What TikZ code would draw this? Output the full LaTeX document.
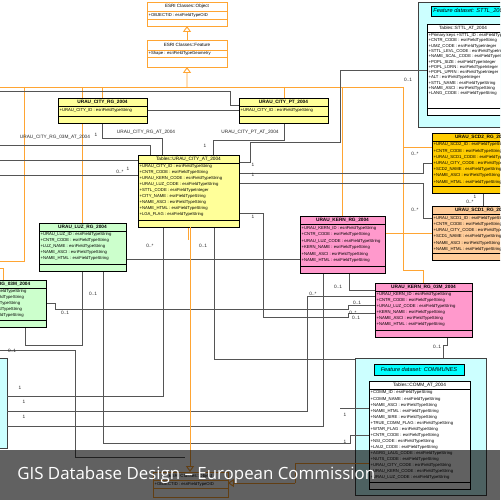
\documentclass[tikz,border=0pt]{standalone}
\usepackage{fontspec}
\setmainfont{Liberation Sans}
\newfontfamily\bannerfont{Open Sans}
\usetikzlibrary{calc,arrows.meta}
\definecolor{orln}{HTML}{FFA533}
\definecolor{yel}{HTML}{FFFF99}
\definecolor{grn}{HTML}{CCFFCC}
\definecolor{pnk}{HTML}{FF99CC}
\definecolor{gold}{HTML}{FFCC00}
\definecolor{peach}{HTML}{FFCC99}
\definecolor{lcyan}{HTML}{CCFFFF}
\definecolor{cyn}{HTML}{00FFFF}
\definecolor{lnc}{HTML}{555555}
\tikzset{
  cbox/.style={draw=black,line width=0.3pt,anchor=north west,inner sep=0pt,outer sep=0pt},
  cdiv/.style={draw=black,line width=0.3pt},
  hdr/.style={font=\fontsize{2.7}{3}\selectfont\bfseries,inner sep=0pt},
  attr/.style={font=\fontsize{2.4}{3}\selectfont,inner sep=0pt,anchor=west},
  lbl/.style={font=\fontsize{2.7}{3}\selectfont,inner sep=0pt,text=black!85},
  assoc/.style={draw=lnc,line width=0.35pt},
  inh/.style={draw=orln,line width=0.55pt},
  gen/.style={inh,-{Triangle[open,length=3.4pt,width=4.6pt]}},
  dset/.style={draw=black!75,line width=0.4pt,fill=lcyan,anchor=north west,inner sep=0pt,outer sep=0pt},
  dlbl/.style={draw=black,line width=0.3pt,fill=cyn,anchor=north west,inner sep=0pt,outer sep=0pt,
     font=\fontsize{3.2}{3.6}\selectfont\itshape},
}
% #1 name #2 x1 #3 y1 #4 x2 #5 y2 #6 fill #7 header #8 attrs #9 row step
\newcommand\ucls[9]{%
  \pgfmathsetmacro\cw{(#4-(#2))*0.02}%
  \pgfmathsetmacro\ch{(#5-(#3))*0.02}%
  \node[cbox,fill=#6,minimum width=\cw cm,minimum height=\ch cm] (#1) at (#2,#3) {};
  \draw[cdiv] ($(#1.north west)+(0,8)$) -- ($(#1.north east)+(0,8)$);
  \draw[cdiv] ($(#1.south west)+(0,-7)$) -- ($(#1.south east)+(0,-7)$);
  \node[hdr] at ($(#1.north)+(0,4.2)$) {#7};
  \foreach \a [count=\i] in {#8}{\node[attr] at ($(#1.north west)+(1.2,{8+(\i-0.5)*#9+0.8})$) {\a};}%
}
\begin{document}
\begin{tikzpicture}[x=0.02cm,y=-0.02cm]
\useasboundingbox (0,0) rectangle (500,500);
\clip (0,0) rectangle (500,500);
\fill[white] (0,0) rectangle (500,500);

% ---------- feature dataset backgrounds
\node[dset,minimum width=2.6cm,minimum height=2.5cm] (sttlds) at (418,2) {};
\node[dlbl,minimum width=2.2cm,minimum height=0.2cm] (sttllb) at (431,6) {};
\node[font=\fontsize{3.2}{3.6}\selectfont\itshape,anchor=west,inner sep=0] at (433,11) {Feature dataset: STTL\_2004};
\node[dset,minimum width=2.62cm,minimum height=2.74cm] (commds) at (355,358) {};
\node[dlbl,minimum width=1.8cm,minimum height=0.22cm] (commlb) at (374,364) {};
\node[font=\fontsize{3.2}{3.6}\selectfont\itshape,inner sep=0] at (419,369.5) {Feature dataset: COMMUNES};
\node[dset,minimum width=1.4cm,minimum height=1.8cm] (blds) at (-63,358) {};

% ---------- generalisation (orange)
\coordinate (bus) at (187,87);
\draw[inh] (-5,87) -- (403,87);
\draw[inh] (24,87) -- (24,261) -- (-5,261);
\draw[inh] (-5,268) -- (3,268) -- (3,280);
\draw[inh] (82,87) -- (82,223);
\draw[inh] (102,87) -- (102,98);
\draw[inh] (284,87) -- (284,98);
\draw[inh] (403,87) -- (403,270) -- (423,270) -- (423,283);
\draw[inh] (403,147) -- (432,147);
\draw[inh] (342,87) -- (342,216);
\draw[inh] (342,233) -- (432,233);
\draw[inh] (188,227) -- (188,240);

% ---------- associations
\draw[assoc] (-5,91) -- (230,91) -- (230,105) -- (239,105);
\draw[assoc] (147,110.5) -- (239,110.5);
\draw[assoc] (102.5,123) -- (102.5,138) -- (162,138) -- (162,155);
\draw[assoc] (-5,145) -- (150,145) -- (150,155);
\draw[assoc] (284,123) -- (284,140) -- (213,140) -- (213,155);
\draw[assoc] (-5,160) -- (138,160);
\draw[assoc] (-5,175) -- (138,175);
\draw[assoc] (239,162) -- (250,162) -- (250,142) -- (340,142) -- (340,70) -- (427,70);
\draw[assoc] (239,173) -- (423,173) -- (423,163) -- (432,163);
\draw[assoc] (239,183) -- (423,183) -- (423,218) -- (432,218);
\draw[assoc] (239,213) -- (263,213) -- (263,317) -- (348,317) -- (348,313) -- (375,313);
\draw[assoc] (126,259) -- (300,259);
\draw[assoc] (163,227) -- (163,396) -- (7,396);
\draw[assoc] (214,227) -- (214,359) -- (355,359);
\draw[assoc] (82,271) -- (82,345) -- (25,345) -- (25,327);
\draw[assoc] (103,271) -- (103,443) -- (350,443) -- (350,435) -- (369,435);
\draw[assoc] (46,303) -- (55,303) -- (55,309) -- (348,309) -- (348,305) -- (375,305);
\draw[assoc] (-5,350) -- (75,350) -- (75,457) -- (185,457);
\draw[assoc] (7,411) -- (307,411) -- (307,296) -- (375,296);
\draw[assoc] (7,426) -- (323,426) -- (323,273);
\draw[assoc] (349,273) -- (349,290) -- (375,290);
\draw[assoc] (447,337) -- (447,345) -- (443,345) -- (443,358);
\draw[assoc] (483,193) -- (483,206);
\draw[assoc] (340,408) -- (369,408);

% ---------- classes
\node[cbox,draw=orln,fill=white,minimum width=1.6cm,minimum height=0.48cm] (obj) at (147,2) {};
\draw[orln,line width=0.3pt] ($(obj.north west)+(0,9)$) -- ($(obj.north east)+(0,9)$);
\draw[orln,line width=0.3pt] ($(obj.north west)+(0,17)$) -- ($(obj.north east)+(0,17)$);
\node[font=\fontsize{2.6}{3}\selectfont,inner sep=0] at ($(obj.north)+(0,4.5)$) {ESRI Classes::Object};
\node[attr] at ($(obj.north west)+(1.2,13)$) {+OBJECTID : esriFieldTypeOID};

\node[cbox,draw=orln,fill=white,minimum width=1.6cm,minimum height=0.54cm] (feat) at (147,40) {};
\draw[orln,line width=0.3pt] ($(feat.north west)+(0,10)$) -- ($(feat.north east)+(0,10)$);
\draw[orln,line width=0.3pt] ($(feat.north west)+(0,17)$) -- ($(feat.north east)+(0,17)$);
\node[font=\fontsize{2.6}{3}\selectfont,inner sep=0] at ($(feat.north)+(0,5)$) {ESRI Classes::Feature};
\node[attr] at ($(feat.north west)+(1.2,13.5)$) {+Shape : esriFieldTypeGeometry};
\draw[gen] (feat) -- (obj);
\draw[gen] (bus) -- (feat);

\ucls{cityrg}{58}{98}{147}{123}{yel}{URAU\_CITY\_RG\_2004}{+URAU\_CITY\_ID : esriFieldTypeString}{8}
\ucls{citypt}{239}{98}{328}{123}{yel}{URAU\_CITY\_PT\_2004}{+URAU\_CITY\_ID : esriFieldTypeString}{8}
\ucls{cityat}{138}{155}{239}{227}{yel}{\mdseries Tables::URAU\_CITY\_AT\_2004}{+URAU\_CITY\_ID : esriFieldTypeString,+CNTR\_CODE : esriFieldTypeString,+URAU\_KERN\_CODE : esriFieldTypeString,+URAU\_LUZ\_CODE : esriFieldTypeString,+STTL\_CODE : esriFieldTypeInteger,+CITY\_NAME : esriFieldTypeString,+NAME\_ASCI : esriFieldTypeString,+NAME\_HTML : esriFieldTypeString,+LGA\_FLAG : esriFieldTypeString}{6}
\ucls{luzrg}{39}{223}{126}{271}{grn}{URAU\_LUZ\_RG\_2004}{+URAU\_LUZ\_ID : esriFieldTypeString,+CNTR\_CODE : esriFieldTypeString,+LUZ\_NAME : esriFieldTypeString,+NAME\_ASCI : esriFieldTypeString,+NAME\_HTML : esriFieldTypeString}{6}
\ucls{luz3}{-46}{280}{46}{327}{grn}{URAU\_LUZ\_RG\_03M\_2004}{+URAU\_LUZ\_ID : esriFieldTypeString,+CNTR\_CODE : esriFieldTypeString,+LUZ\_NAME : esriFieldTypeString,+NAME\_ASCI : esriFieldTypeString,+NAME\_HTML : esriFieldTypeString}{6}
\ucls{kernrg}{300}{216}{385}{273}{pnk}{URAU\_KERN\_RG\_2004}{+URAU\_KERN\_ID : esriFieldTypeString,+CNTR\_CODE : esriFieldTypeString,+URAU\_LUZ\_CODE : esriFieldTypeString,+KERN\_NAME : esriFieldTypeString,+NAME\_ASCI : esriFieldTypeString,+NAME\_HTML : esriFieldTypeString}{6.5}
\ucls{kern3}{375}{283}{472}{337}{pnk}{URAU\_KERN\_RG\_03M\_2004}{+URAU\_KERN\_ID : esriFieldTypeString,+CNTR\_CODE : esriFieldTypeString,+URAU\_LUZ\_CODE : esriFieldTypeString,+KERN\_NAME : esriFieldTypeString,+NAME\_ASCI : esriFieldTypeString,+NAME\_HTML : esriFieldTypeString}{6}
\ucls{scd2}{432}{133}{530}{193}{gold}{URAU\_SCD2\_RG\_2004}{+URAU\_SCD2\_ID : esriFieldTypeString,+CNTR\_CODE : esriFieldTypeString,+URAU\_SCD1\_CODE : esriFieldTypeString,+URAU\_CITY\_CODE : esriFieldTypeString,+SCD2\_NAME : esriFieldTypeString,+NAME\_ASCI : esriFieldTypeString,+NAME\_HTML : esriFieldTypeString}{6.2}
\ucls{scd1}{432}{206}{530}{260}{peach}{URAU\_SCD1\_RG\_2004}{+URAU\_SCD1\_ID : esriFieldTypeString,+CNTR\_CODE : esriFieldTypeString,+URAU\_CITY\_CODE : esriFieldTypeString,+SCD1\_NAME : esriFieldTypeString,+NAME\_ASCI : esriFieldTypeString,+NAME\_HTML : esriFieldTypeString}{6.3}
\ucls{sttlt}{427}{24}{540}{115}{white}{}{+Primary keys +STTL\_ID : esriFieldTypeString,+CNTR\_CODE : esriFieldTypeString,+UMZ\_CODE : esriFieldTypeInteger,+STTL\_LEVL\_CODE : esriFieldTypeInteger,+NAME\_SCAL\_CODE : esriFieldTypeInteger,+POPL\_SIZE : esriFieldTypeInteger,+POPL\_LORN : esriFieldTypeInteger,+POPL\_UPRN : esriFieldTypeInteger,+ALT : esriFieldTypeInteger,+STTL\_NAME : esriFieldTypeString,+NAME\_ASCI : esriFieldTypeString,+LANG\_CODE : esriFieldTypeString}{5.3}
\node[font=\fontsize{2.6}{3}\selectfont,inner sep=0] at (463,28.5) {Tables::STTL\_AT\_2004};
\ucls{commt}{369}{381}{470}{489}{white}{\mdseries Tables::COMM\_AT\_2004}{+COMM\_ID : esriFieldTypeString,+COMM\_NAME : esriFieldTypeString,+NAME\_ASCI : esriFieldTypeString,+NAME\_HTML : esriFieldTypeString,+NAME\_SIRE : esriFieldTypeString,+TRUE\_COMM\_FLAG : esriFieldTypeString,+WTAR\_FLAG : esriFieldTypeString,+CNTR\_CODE : esriFieldTypeString,+NSI\_CODE : esriFieldTypeString,+LAU2\_CODE : esriFieldTypeString,+AGRG\_LAU1\_CODE : esriFieldTypeString,+NUTS\_CODE : esriFieldTypeString,+URAU\_CITY\_CODE : esriFieldTypeString,+URAU\_KERN\_CODE : esriFieldTypeString,+URAU\_LUZ\_CODE : esriFieldTypeString}{6.07}

% bottom ESRI object copy
\node[cbox,draw=orln,fill=white,minimum width=1.5cm,minimum height=0.5cm] (obj2) at (153,472) {};
\draw[orln,line width=0.3pt] ($(obj2.north west)+(0,8)$) -- ($(obj2.north east)+(0,8)$);
\draw[orln,line width=0.3pt] ($(obj2.north west)+(0,16)$) -- ($(obj2.north east)+(0,16)$);
\node[font=\fontsize{2.6}{3}\selectfont,inner sep=0] at ($(obj2.north)+(0,4)$) {ESRI Classes::Object};
\node[attr] at ($(obj2.north west)+(1.2,12)$) {+OBJECTID : esriFieldTypeOID};
\coordinate (tabbus) at (190,240);
\draw[gen] (cityat.south -| tabbus) -- (tabbus |- obj2.north);
\draw[inh] (commt.west |- 0,463) -- (295,463) -- (295,483);
\draw[gen] (295,483) -- (obj2.east |- 0,483);

% ---------- labels
\node[lbl] at (55,137) {URAU\_CITY\_RG\_03M\_AT\_2004};
\node[lbl] at (96,135) {1};
\node[lbl] at (146,132) {URAU\_CITY\_RG\_AT\_2004};
\node[lbl] at (250,132) {URAU\_CITY\_PT\_AT\_2004};
\node[lbl] at (205,146) {1};
\node[lbl] at (120,172) {0..*};
\node[lbl] at (128,169) {1};
\node[lbl] at (253,165) {1};
\node[lbl] at (253,175) {1};
\node[lbl] at (253,217) {1};
\node[lbl] at (408,80) {0..1};
\node[lbl] at (415,154) {0..*};
\node[lbl] at (415,210) {0..*};
\node[lbl] at (475,197) {1};
\node[lbl] at (470,202) {0..*};
\node[lbl] at (150,246) {0..*};
\node[lbl] at (203,246) {0..1};
\node[lbl] at (93,294) {0..1};
\node[lbl] at (65,313) {0..1};
\node[lbl] at (338,287) {0..1};
\node[lbl] at (313,294) {0..*};
\node[lbl] at (357,303) {0..1};
\node[lbl] at (353,313) {0..*};
\node[lbl] at (356,318) {0..1};
\node[lbl] at (437,347) {0..1};
\node[lbl] at (12,351) {0..1};
\node[lbl] at (20,388) {1};
\node[lbl] at (24,402) {1};
\node[lbl] at (24,417) {1};
\node[lbl] at (345,415) {1};
\node[lbl] at (345,442) {1};

% ---------- banner
\fill[black,opacity=0.62] (0,450) rectangle (500,500);
\node[text=white,anchor=west,inner sep=0,font=\bannerfont\fontsize{9.6}{11}\selectfont] (banner) at (17,475) {GIS Database Design – European Commission};
\end{tikzpicture}
\end{document}
